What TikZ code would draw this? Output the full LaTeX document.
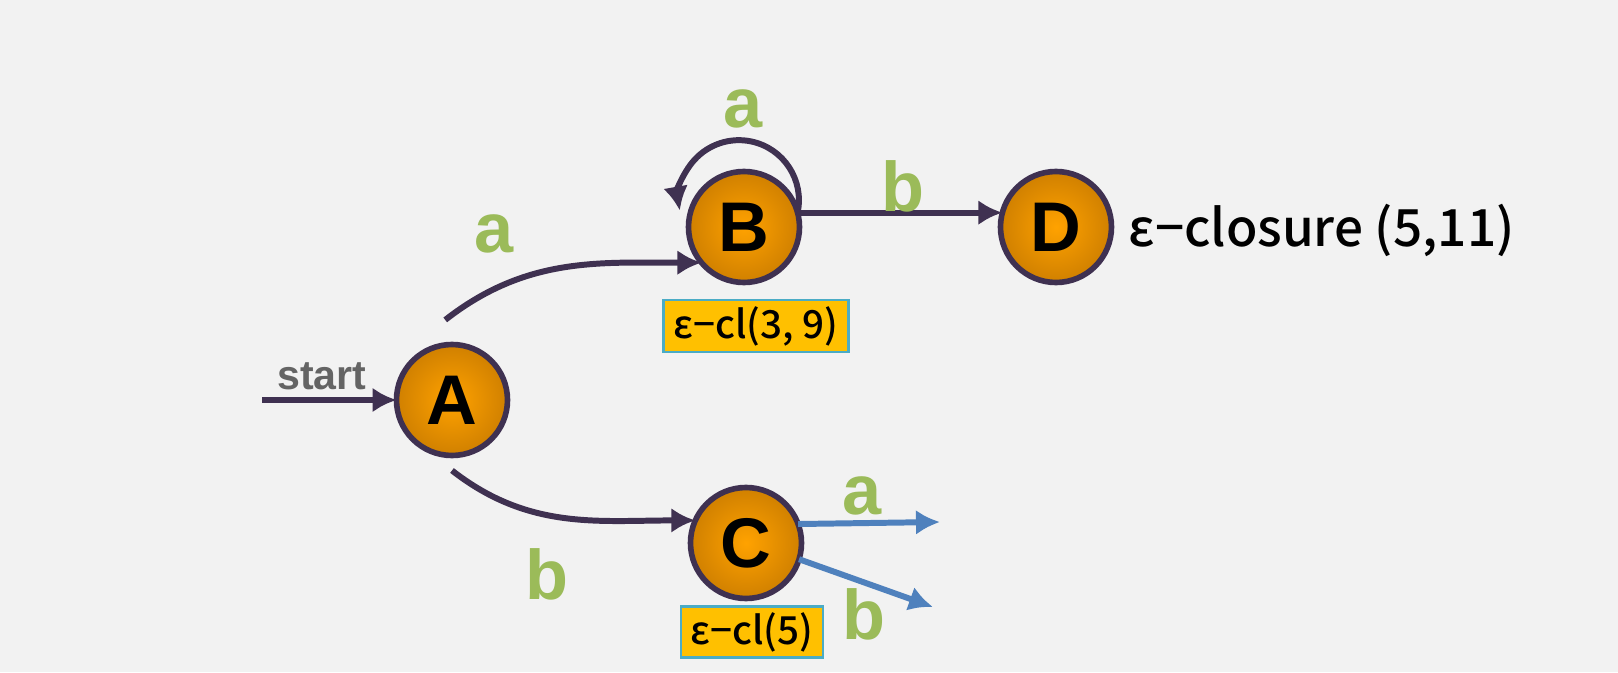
\documentclass[tikz,border=0pt]{standalone}
\usepackage{fontspec}
\setmainfont{Liberation Sans}
\newfontfamily\kfont{Noto Sans CJK KR Medium}
\usepackage{tkz-graph}
\usetikzlibrary{arrows.meta}

\definecolor{bggray}{HTML}{F2F2F2}
\definecolor{edgepurple}{HTML}{3F3151}
\definecolor{labgreen}{HTML}{9BBB59}
\definecolor{outblue}{HTML}{4F81BD}
\definecolor{boxgold}{HTML}{FFC000}
\definecolor{boxline}{HTML}{4BACC6}
\definecolor{startgray}{HTML}{646464}
\definecolor{stateinner}{HTML}{FFA200}
\definecolor{stateouter}{HTML}{D08000}

\begin{document}
\begin{tikzpicture}
      \useasboundingbox (0,0) rectangle (16.18,6.72);
      \fill[bggray] (0,0) rectangle (16.18,6.72);
      \GraphInit[vstyle = Normal]
      \tikzset{VertexStyle/.style = {circle, draw = edgepurple, line width = 1.6pt,
        minimum size = 1.11cm, inner sep = 0pt, inner color = stateinner,
        outer color = stateouter, font = \bfseries\fontsize{20}{20}\selectfont}}
      \tikzset{trans/.style = {draw = edgepurple, line width = 1.7pt,
        -{Latex[length = 2.4mm, width = 2.5mm]}},
        outtrans/.style = {trans, draw = outblue},
        sym/.style = {text = labgreen, anchor = base, inner sep = 0pt,
        font = \bfseries\fontsize{20}{20}\selectfont},
        closbox/.style = {draw = boxline, line width = 0.6pt, fill = boxgold,
        inner sep = 0pt, font = \kfont\fontsize{11}{11}\selectfont}}
      \Vertex[x = 4.52, y = 2.72]{A}
      \Vertex[x = 7.44, y = 4.45]{B}
      \Vertex[x = 7.46, y = 1.29]{C}
      \Vertex[x = 10.56, y = 4.45]{D}
      % start arrow and free ends
      \coordinate (start) at (2.62, 2.72);
      \coordinate (Ca) at (9.40, 1.50);
      \coordinate (Cb) at (9.33, 0.65);
      \draw[trans] (start) -- (A.west);
      \node[sym, text = startgray, font = \bfseries\fontsize{11.7}{12}\selectfont]
        (lstart) at (3.22, 2.82) {start};
      % transitions
      \draw[trans] ([yshift = 2.5mm]A.97) to[out = 38, in = 180] (B.220);
      \draw[trans] ([yshift = -1.5mm]A.south) to[out = -38, in = 180] (C.156);
      \draw[trans] (B.15) arc[start angle = -12, end angle = 190, radius = 0.6cm];
      \draw[trans] (B.15) -- (D.165);
      \draw[outtrans] (C.20) -- (Ca);
      \draw[outtrans] (C.-17) -- (Cb);
      \node[sym] (lab) at (4.94, 4.20) {a};
      \node[sym] (lac) at (5.47, 0.72) {b};
      \node[sym] (lbb) at (7.43, 5.44) {a};
      \node[sym] (lbd) at (9.03, 4.60) {b};
      \node[sym] (lca) at (8.62, 1.57) {a};
      \node[sym] (lcb) at (8.64, 0.32) {b};
      % closures
      \node[closbox, minimum width = 1.85cm, minimum height = 0.52cm]
        (clB) at (7.56, 3.46) {ε−cl(3, 9)};
      \node[closbox, minimum width = 1.42cm, minimum height = 0.51cm]
        (clC) at (7.52, 0.40) {ε−cl(5)};
      \node[anchor = west, inner sep = 0pt, font = \kfont\fontsize{14.6}{15}\selectfont]
        (clD) at (11.28, 4.42) {ε−closure (5,11)};
\end{tikzpicture}
\end{document}
